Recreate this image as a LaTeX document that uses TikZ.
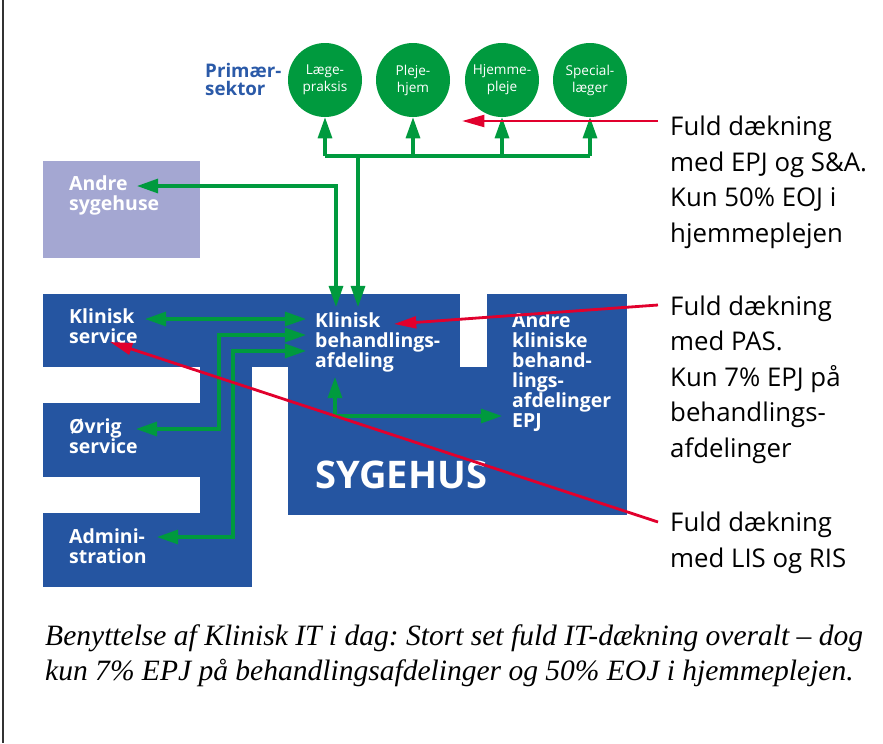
\documentclass[tikz,border=0pt]{standalone}
\usepackage{fontspec}
\setmainfont{Open Sans}
\newfontfamily\capfont{Liberation Serif}
\usetikzlibrary{arrows.meta}
\frenchspacing

\definecolor{sygblue}{RGB}{37,85,161}
\definecolor{otherblue}{RGB}{164,167,210}
\definecolor{unitgreen}{RGB}{0,154,62}
\definecolor{notered}{RGB}{225,0,45}
\definecolor{primblue}{RGB}{43,90,168}

\begin{document}
\begin{tikzpicture}[x=0.03cm,y=-0.03cm]

\tikzset{boxtext/.style = {anchor=base west,inner sep=0pt,align=left,text=white,font=\bfseries\fontsize{16.6}{17}\selectfont}}
\tikzset{unit/.style = {shape=circle,fill=unitgreen,minimum size=2.22cm,inner sep=0pt,align=center,text=white,font=\fontsize{11.6}{14.5}\selectfont}}
\tikzset{note/.style = {anchor=base west,inner sep=0pt,align=left,font=\fontsize{22}{30.2}\selectfont}}
\tikzset{link/.style = {draw=unitgreen,line width=2.6pt,>={Triangle[length=18pt,width=12pt]}}}
\tikzset{pointer/.style = {->,draw=notered,line width=2.4pt,>={Triangle[length=19pt,width=10pt]}}}

\useasboundingbox (0,0) rectangle (883,743);
\draw[line width=1.2pt,black!80] (3,0) -- (3,743);

%boxes
\fill[otherblue] (43,161) rectangle (200,258);
\fill[sygblue] (43,294) rectangle (460,367);
\fill[sygblue] (487,294) rectangle (627,515);
\fill[sygblue] (288,367) rectangle (627,515);
\fill[sygblue] (200,367) rectangle (252,587);
\fill[sygblue] (43,403) rectangle (200,477);
\fill[sygblue] (43,513) rectangle (252,587);

%labels (placed at the baseline of their last line)
\node[anchor=base west,inner sep=0pt,align=left,text=primblue,font=\bfseries\fontsize{16}{15.3}\selectfont] (prim) at (205,95) {Primær-\\sektor};
\node[boxtext] (andre) at (69,210) {Andre\\sygehuse};
\node[boxtext] (ks) at (69,343) {Klinisk\\service};
\node[boxtext] (kb) at (315,367) {Klinisk\\behandlings-\\afdeling};
\node[boxtext] (ak) at (512,427) {Andre\\kliniske\\behand-\\lings-\\afdelinger\\EPJ};
\node[boxtext] (ov) at (69,453) {Øvrig\\service};
\node[boxtext] (adm) at (69,563) {Admini-\\stration};
\node[boxtext,font=\bfseries\fontsize{32.5}{34}\selectfont] (syg) at (315,488) {SYGEHUS};

%primary sector
\node[unit] (lp) at (325,80) {Læge-\\praksis};
\node[unit] (ph) at (413,80) {Pleje-\\hjem};
\node[unit] (hp) at (502,80) {Hjemme-\\pleje};
\node[unit] (sl) at (590,80) {Special-\\læger};

%notes
\node[note] (n1) at (670,242) {Fuld dækning\\med EPJ og S\&A.\\Kun 50\% EOJ i\\hjemmeplejen};
\node[note] (n2) at (670,457) {Fuld dækning\\med PAS.\\Kun 7\% EPJ på\\behandlings-\\afdelinger};
\node[note] (n3) at (670,567) {Fuld dækning\\med LIS og RIS};
\node[anchor=base west,inner sep=0pt,align=left,font=\capfont\itshape\fontsize{25.2}{29.8}\selectfont] (cap) at (45,680)
  {Benyttelse af Klinisk IT i dag: Stort set fuld IT-dækning overalt – dog\\kun 7\% EPJ på behandlingsafdelinger og 50\% EOJ i hjemmeplejen.};

%connection points
\coordinate (bus) at (358,156);
\coordinate (kbIn1) at (336,307);
\coordinate (kbIn2) at (358,307);
\coordinate (kbL1) at (306,319);
\coordinate (kbL2) at (306,335);
\coordinate (kbL3) at (306,351);
\coordinate (kbBot) at (335,377);
\coordinate (andreIn) at (137,186);
\coordinate (ksIn) at (145,319);
\coordinate (ovIn) at (136,429);
\coordinate (admIn) at (157,537);
\coordinate (akIn) at (502,416);
\coordinate (e1) at (658,121);
\coordinate (t1) at (462,121);
\coordinate (e2) at (658,305);
\coordinate (t2) at (394,324);
\coordinate (e3) at (658,522);
\coordinate (t3) at (110,342);

%green links
\draw[link] (bus -| lp) -- (bus -| sl);
\draw[link,->] (bus -| lp) -- (lp.south);
\draw[link,->] (bus -| ph) -- (ph.south);
\draw[link,->] (bus -| hp) -- (hp.south);
\draw[link,->] (bus -| sl) -- (sl.south);
\draw[link,->] (bus) -- (kbIn2);
\draw[link,<->] (andreIn) -| (kbIn1);
\draw[link,<->] (ksIn) -- (kbL1);
\draw[link,<->] (ovIn) -- ++(83,0) |- (kbL2);
\draw[link,<->] (admIn) -- ++(76,0) |- (kbL3);
\draw[link,<->] (kbBot) |- (akIn);

%red pointers
\draw[pointer] (e1) -- (t1);
\draw[pointer] (e2) -- (t2);
\draw[pointer] (e3) -- (t3);

\end{tikzpicture}
\end{document}
